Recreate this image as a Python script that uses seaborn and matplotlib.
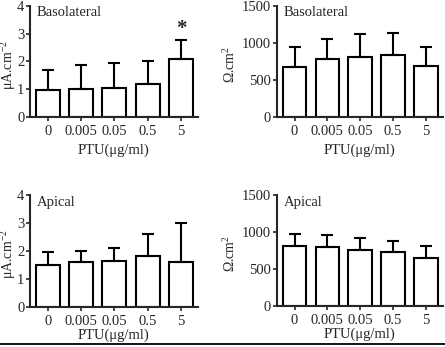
import matplotlib
matplotlib.use("Agg")
import matplotlib.pyplot as plt
import seaborn as sns
import pandas as pd
from matplotlib.lines import Line2D

sns.set_style("ticks")
plt.rcParams["font.family"] = ["Liberation Serif", "DejaVu Serif"]
plt.rcParams["mathtext.fontset"] = "custom"
plt.rcParams["mathtext.rm"] = "Liberation Serif"
plt.rcParams["mathtext.it"] = "Liberation Serif:italic"

doses = ["0", "0.005", "0.05", "0.5", "5"]

# Short-circuit current (µA/cm²) and resistance (Ω·cm²), mean and SD
baso_current = [0.96, 1.00, 1.06, 1.20, 2.10]
baso_current_sd = [0.74, 0.88, 0.87, 0.82, 0.67]
baso_resist = [676, 789, 816, 830, 685]
baso_resist_sd = [266, 270, 301, 305, 257]
apical_current = [1.49, 1.60, 1.65, 1.82, 1.60]
apical_current_sd = [0.49, 0.40, 0.45, 0.78, 1.39]
apical_resist = [815, 797, 757, 725, 653]
apical_resist_sd = [158, 162, 158, 157, 158]

current_ticks = [0, 1, 2, 3, 4]
resist_ticks = [0, 500, 1000, 1500]

fig = plt.figure(figsize=(4.45, 3.47), dpi=100)

panels = [
    ([0.067, 0.663, 0.378, 0.320], baso_current, baso_current_sd, "Basolateral",
     r"μA.cm$^{-2}$", current_ticks, True, -0.073, 4.5),
    ([0.622, 0.663, 0.373, 0.320], baso_resist, baso_resist_sd, "Basolateral",
     r"Ω.cm$^{2}$", resist_ticks, False, -0.235, 4.5),
    ([0.067, 0.115, 0.378, 0.323], apical_current, apical_current_sd, "Apical",
     r"μA.cm$^{-2}$", current_ticks, False, -0.073, 0.5),
    ([0.622, 0.118, 0.373, 0.320], apical_resist, apical_resist_sd, "Apical",
     r"Ω.cm$^{2}$", resist_ticks, False, -0.235, 0.5),
]

fs = 10.5
for rect, means, sds, title, ylabel, yticks, star, ylab_x, xpad in panels:
    ax = fig.add_axes(rect)
    df = pd.DataFrame({"dose": doses, "value": means})
    sns.barplot(data=df, x="dose", y="value", ax=ax, color="white",
                edgecolor="black", linewidth=1.5, width=0.72, errorbar=None,
                saturation=1)
    ax.errorbar(range(len(doses)), means, yerr=[[0] * len(sds), sds],
                fmt="none", ecolor="black", elinewidth=1.5, capsize=4.3,
                capthick=1.5, zorder=1)
    ax.set_xlim(-0.54, 4.51)
    ax.set_ylim(yticks[0], yticks[-1])
    ax.set_yticks(yticks)
    ax.set_ylabel(ylabel, fontsize=10)
    ax.yaxis.set_label_coords(ylab_x, 0.47)
    ax.set_xlabel("PTU(μg/ml)", fontsize=fs, labelpad=xpad)
    ax.tick_params(axis="both", labelsize=fs, width=1.2, length=3, pad=1)
    ax.tick_params(axis="x", pad=2.5)
    for side in ("left", "bottom"):
        ax.spines[side].set_linewidth(1.5)
    sns.despine(ax=ax)
    ax.text(0.04, 0.995, title, transform=ax.transAxes, fontsize=fs,
            ha="left", va="top")
    if star:
        ax.text(4, means[4] + sds[4] + 0.03, "*", ha="center", va="bottom",
                fontsize=15, fontweight="bold")

fig.add_artist(Line2D([0, 1], [0.009, 0.009], color="black", linewidth=1.3,
                      transform=fig.transFigure))

fig.savefig("out.png", dpi=100)
